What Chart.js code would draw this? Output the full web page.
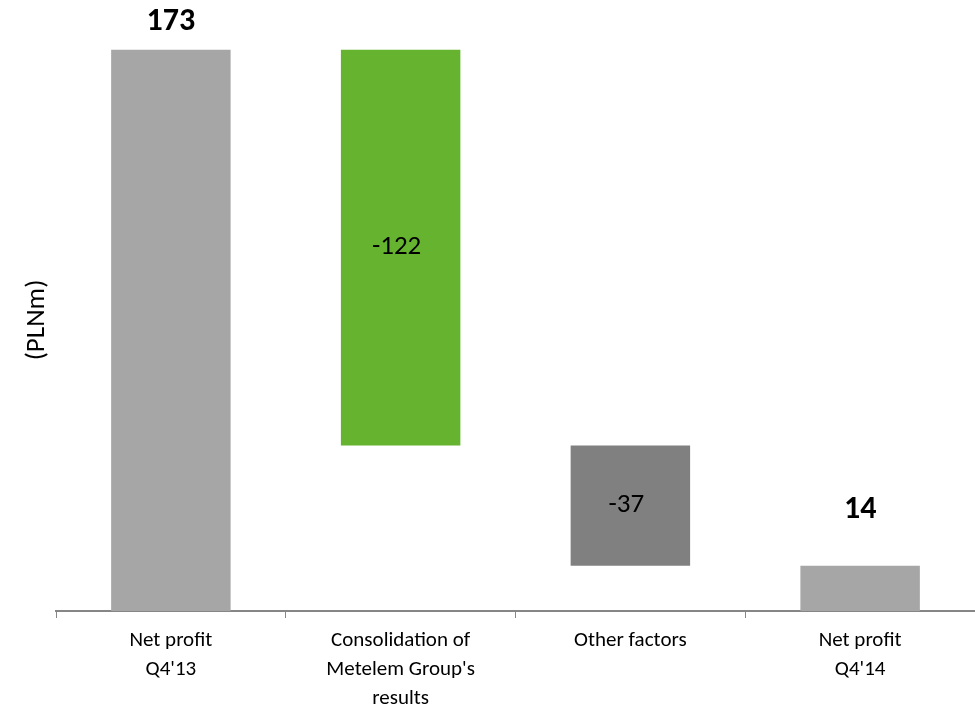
<!DOCTYPE html>
<html>
<head>
<meta charset="utf-8">
<script src="https://cdn.jsdelivr.net/npm/chart.js@4"></script>
<style>
  html, body { margin: 0; padding: 0; background: #fff; }
  #wrap { width: 975px; height: 707px; }
</style>
</head>
<body>
<div id="wrap"><canvas id="waterfall"></canvas></div>
<script>
// Waterfall data (PLNm)
const categories = [['Net profit', "Q4'13"], ['Consolidation of', "Metelem Group's", 'results'], ['Other factors'], ['Net profit', "Q4'14"]];
const changes = [173, -122, -37, 14];
const isTotal = [true, false, false, true];
const barColors = ['#a6a6a6', '#65b32e', '#808080', '#a6a6a6'];

// build floating bars from running total
let running = 0;
const floating = changes.map((v, i) => {
    if (isTotal[i]) { running = v; return [0, v]; }
    const start = running;
    running += v;
    return [running, start];
});

const fontFamily = "Carlito, Calibri, Lato, 'Liberation Sans', sans-serif";

// value labels: totals bold above bar, changes in the middle
const labelOffsets = [28, 0, 0, 56];
const valueLabels = {
    id: 'valueLabels',
    afterDatasetsDraw(chart) {
        const ctx = chart.ctx;
        const meta = chart.getDatasetMeta(0);
        ctx.save();
        ctx.textAlign = 'center';
        ctx.textBaseline = 'middle';
        ctx.fillStyle = '#000';
        meta.data.forEach((bar, i) => {
            const top = Math.min(bar.y, bar.base);
            const bottom = Math.max(bar.y, bar.base);
            if (isTotal[i]) {
                ctx.font = 'bold 32px ' + fontFamily;
                ctx.fillText(String(changes[i]), bar.x, top - labelOffsets[i]);
            } else {
                ctx.font = '27px ' + fontFamily;
                ctx.fillText(String(changes[i]), bar.x - 4, (top + bottom) / 2);
            }
        });
        ctx.restore();
    }
};

// rotated unit title on the left
const unitTitle = {
    id: 'unitTitle',
    afterDraw(chart) {
        const ctx = chart.ctx;
        ctx.save();
        ctx.translate(37, 320);
        ctx.rotate(-Math.PI / 2);
        ctx.textAlign = 'center';
        ctx.textBaseline = 'middle';
        ctx.fillStyle = '#000';
        ctx.font = '27px ' + fontFamily;
        ctx.fillText('(PLNm)', 0, 0);
        ctx.restore();
    }
};

new Chart(document.getElementById('waterfall').getContext('2d'), {
    type: 'bar',
    data: {
        labels: categories,
        datasets: [{
            data: floating,
            backgroundColor: barColors,
            borderWidth: 0,
            barPercentage: 0.52,
            categoryPercentage: 1
        }]
    },
    plugins: [valueLabels, unitTitle],
    options: {
        responsive: true,
        maintainAspectRatio: false,
        animation: false,
        layout: { padding: { left: 56, top: 27, right: 0, bottom: -14 } },
        plugins: {
            legend: { display: false },
            tooltip: { enabled: false }
        },
        scales: {
            x: {
                grid: {
                    display: true,
                    offset: true,
                    drawOnChartArea: false,
                    tickLength: 7,
                    color: '#868686'
                },
                border: { color: '#868686', width: 2 },
                ticks: {
                    color: '#000',
                    padding: 8,
                    maxRotation: 0,
                    font: { family: fontFamily, size: 21, lineHeight: 1.38 }
                }
            },
            y: {
                display: false,
                min: 0,
                max: 180
            }
        }
    }
});
</script>
</body>
</html>
